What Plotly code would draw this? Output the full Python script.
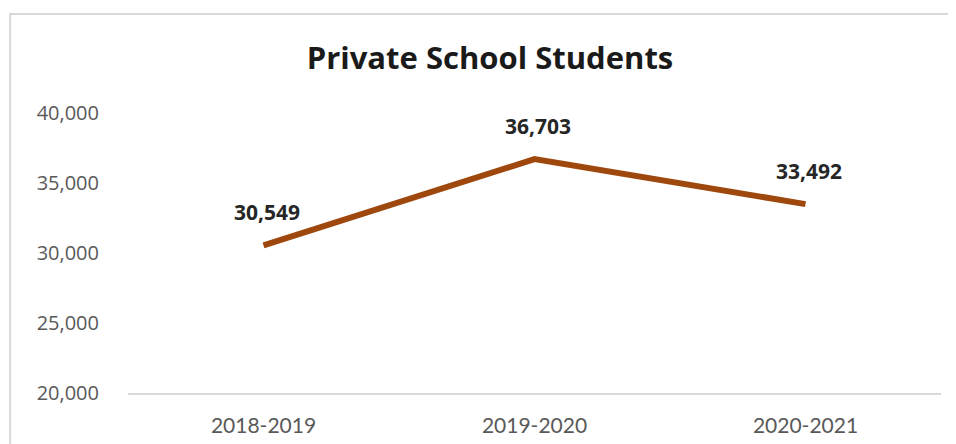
import plotly.graph_objects as go

years = ["2018-2019", "2019-2020", "2020-2021"]
students = [30549, 36703, 33492]
tick_vals = [20000, 25000, 30000, 35000, 40000]

# page body has an 8px margin, so the figure is drawn 8px smaller and shifted
W, H = 948, 436

fig = go.Figure()
fig.add_trace(go.Scatter(x=years, y=students, mode="lines",
                         line=dict(color="#9E480E", width=6),
                         hoverinfo="x+y"))

for yr, n in zip(years, students):
    fig.add_annotation(x=yr, y=n, text="<b>{:,}</b>".format(n), showarrow=False,
                       yshift=33, xshift=3,
                       font=dict(family="Open Sans", size=21, color="#262626"))

# light chart border, running past the right and bottom edges
fig.add_shape(type="rect", xref="paper", yref="paper",
              x0=-0.145, x1=1.2, y0=-0.6, y1=1.3536,
              line=dict(color="#D9D9D9", width=2), fillcolor="rgba(0,0,0,0)")

fig.update_layout(
    width=W, height=H,
    margin=dict(l=120, r=15, t=105, b=51),
    paper_bgcolor="white", plot_bgcolor="white",
    showlegend=False,
    title=dict(text="<b>Private School Students</b>", x=482 / W, xanchor="center",
               y=1 - 50 / H, yanchor="middle", yref="container",
               font=dict(family="Open Sans", size=31, color="#1a1a1a")),
    xaxis=dict(range=[-0.5, 2.5], showgrid=False, zeroline=False,
               showline=True, linecolor="#D9D9D9", linewidth=2,
               ticks="", ticklabelstandoff=13, automargin=False,
               tickfont=dict(family="Lato", size=21, color="#595959")),
    yaxis=dict(range=[20000, 40000], tickvals=tick_vals, tickformat=",",
               showgrid=False, zeroline=False, showline=False,
               ticks="", ticklabelstandoff=28, automargin=False,
               tickfont=dict(family="Open Sans", size=20, color="#595959")),
)

fig.write_html("out.html")
